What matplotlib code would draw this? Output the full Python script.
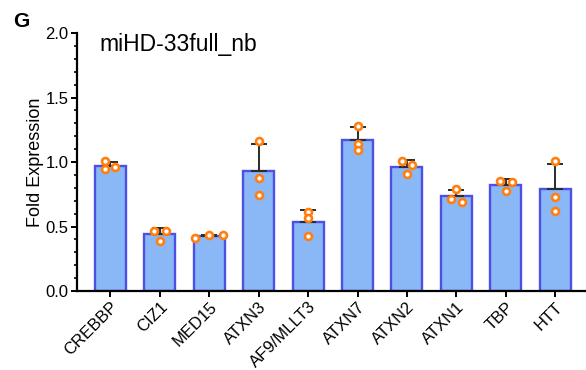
import numpy as np
import matplotlib.pyplot as plt
from matplotlib.ticker import MultipleLocator

plt.rcParams['font.family'] = ['Liberation Sans', 'DejaVu Sans']

genes = ["CREBBP", "CIZ1", "MED15", "ATXN3", "AF9/MLLT3",
         "ATXN7", "ATXN2", "ATXN1", "TBP", "HTT"]

# replicate values (3 per gene)
reps = [
    [1.005, 0.943, 0.964],
    [0.467, 0.467, 0.390],
    [0.411, 0.432, 0.432],
    [1.160, 0.874, 0.747],
    [0.612, 0.563, 0.429],
    [1.282, 1.142, 1.090],
    [1.008, 0.977, 0.907],
    [0.791, 0.716, 0.692],
    [0.853, 0.842, 0.775],
    [1.010, 0.731, 0.620],
]

# horizontal scatter of the dots (category units)
jitter = [
    [-0.12, -0.12, 0.10],
    [-0.11, 0.12, 0.0],
    [-0.28, 0.0, 0.28],
    [0.0, 0.0, 0.0],
    [0.0, 0.0, 0.0],
    [0.0, 0.0, 0.0],
    [-0.10, 0.11, 0.0],
    [0.0, -0.11, 0.11],
    [-0.11, 0.12, 0.0],
    [0.0, 0.0, 0.0],
]

vals = np.array(reps)
means = vals.mean(axis=1)
sds = vals.std(axis=1, ddof=1)
x = np.arange(len(genes))

fig = plt.figure(figsize=(5.86, 3.70), dpi=100)
ax = fig.add_axes([0.1314, 0.2135, 0.8686, 0.6973])

ax.bar(x, means, width=0.63, color="#8ab8f7", edgecolor="#4c50e4",
       linewidth=1.7, zorder=2)
ax.errorbar(x, means, yerr=[np.zeros_like(sds), sds], fmt="none",
            ecolor="#2b2b2b", elinewidth=1.4, capsize=6, capthick=1.4, zorder=3)
for i in range(len(genes)):
    ax.plot(x[i] + np.array(jitter[i]), vals[i], "o", ms=5, mfc="white",
            mec="#ff7f0e", mew=1.9, zorder=4, clip_on=False)

ax.set_xlim(-0.678, 9.625)
ax.set_ylim(0, 2.0)
ax.yaxis.set_minor_locator(MultipleLocator(0.1))
ax.set_yticks([0, 0.5, 1.0, 1.5, 2.0])
ax.set_yticklabels(["0.0", "0.5", "1.0", "1.5", "2.0"], fontsize=12)
ax.set_xticks(x)
ax.set_xticklabels(genes, rotation=45, ha="right", rotation_mode="anchor",
                   fontsize=12)

for s in ["top", "right"]:
    ax.spines[s].set_visible(False)
ax.spines["left"].set_linewidth(1.6)
ax.spines["bottom"].set_linewidth(1.6)
ax.tick_params(axis="both", which="major", length=4, width=1.4, pad=2)
ax.tick_params(axis="y", which="minor", length=2.5, width=1.2)

ax.set_ylabel("Fold Expression", fontsize=13, labelpad=1)
ax.text(0.045, 1.91, "miHD-33full_nb", transform=ax.get_yaxis_transform(),
        fontsize=16.5, ha="left", va="center")
fig.text(0.022, 0.942, "G", fontsize=15, fontweight="bold", ha="left", va="center")

fig.savefig("out.png", dpi=100)
